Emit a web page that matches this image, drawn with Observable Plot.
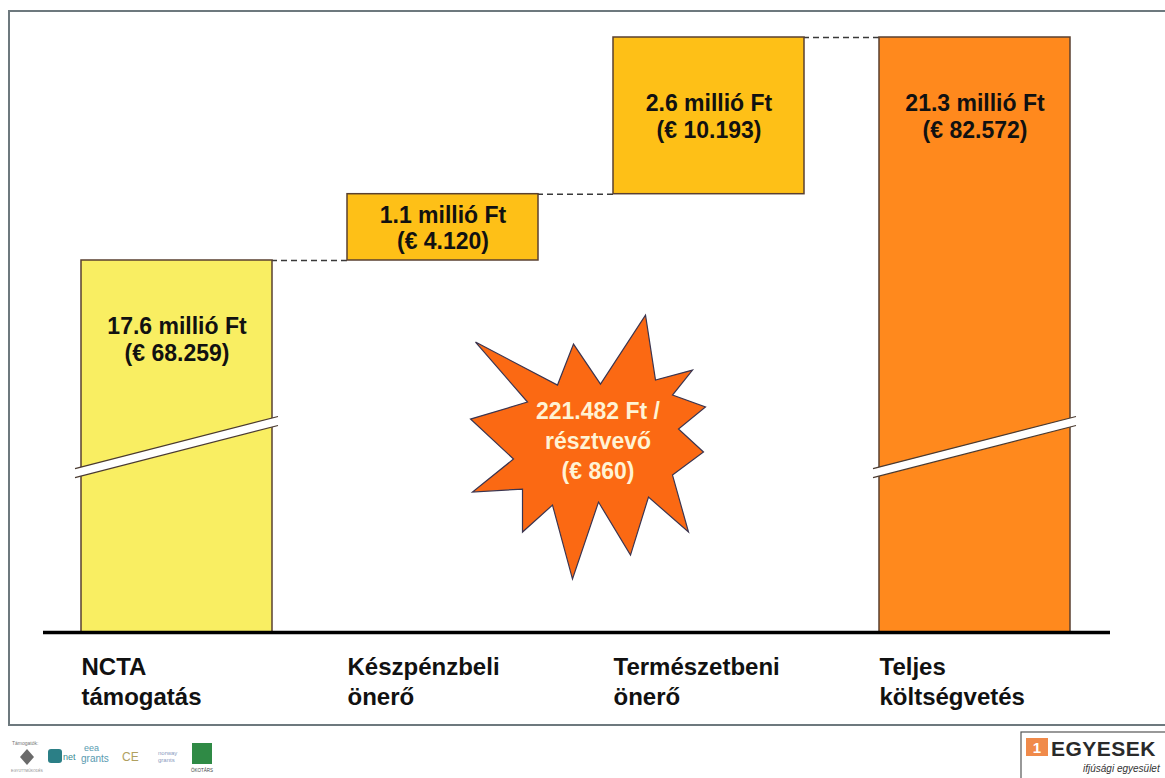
<!DOCTYPE html>
<html><head><meta charset="utf-8">
<script src="https://cdn.jsdelivr.net/npm/d3@7"></script>
<script src="https://cdn.jsdelivr.net/npm/@observablehq/plot@0.6"></script>
<style>
html,body{margin:0;padding:0;background:#fff;}
#chart{position:relative;width:1165px;height:778px;overflow:hidden;}
#frame{position:absolute;left:8px;top:10px;width:1175px;height:712px;border:2px solid #6d797e;pointer-events:none;}
</style></head><body>
<div id="chart"><div id="frame"></div></div>
<script>
// ---- data ----
const categories = ["NCTA\ntámogatás", "Készpénzbeli\nönerő", "Természetbeni\nönerő", "Teljes\nköltségvetés"];
const kinds = ["start", "step", "step", "total"];
const millionFt = [17.6, 1.1, 2.6, 21.3];
const euros = [68259, 4120, 10193, 82572];
const perParticipantFt = 221482;
const perParticipantEur = 860;
const breakValue = 8.75; // where the axis break is drawn (million Ft)

// ---- styles ----
const palette = ["#f9ee62", "#fec017", "#fec017", "#ff891d"];
const font = "'Liberation Sans', Arial, Helvetica, sans-serif";

// ---- derived table ----
let cum = 0;
const rows = categories.map((c, i) => {
  let y1, y2;
  if (kinds[i] === "start") { y1 = 0; y2 = millionFt[i]; cum = y2; }
  else if (kinds[i] === "step") { y1 = cum; y2 = cum + millionFt[i]; cum = y2; }
  else { y1 = 0; y2 = millionFt[i]; }
  return {cat: c, kind: kinds[i], y1, y2, value: millionFt[i], eur: euros[i]};
});
const connectors = rows.slice(0, -1).map((r, i) => ({from: rows[i + 1].cat, to: r.cat, y: r.y2}));

const loc = d3.formatLocale({thousands: ".", decimal: ",", grouping: [3], currency: ["", ""]});
const fmtInt = loc.format(",d");
const valueLabel = d => `${d.value.toFixed(1)} millió Ft\n(€ ${fmtInt(d.eur)})`;
const starLabel = [{cat: categories[1], y: breakValue,
  text: `${fmtInt(perParticipantFt)} Ft /\nrésztvevő\n(€ ${fmtInt(perParticipantEur)})`}];

const W = 1165, H = 778;
const xRange = [81, 1070], padIn = 0.282;
const step = (xRange[1] - xRange[0]) / (categories.length - padIn);
const bw = step * (1 - padIn);

// star outline, relative to its centre (between the two middle columns)
const starShape = [[70,-132],[80,-67],[117,-77],[97,-52],[130,-40],[103,-18],[128,5],[97,28],[113,85],[73,50],
  [55,108],[23,55],[-3,132],[-23,58],[-53,85],[-53,42],[-103,45],[-62,12],[-105,-28],[-48,-45],[-100,-105],[-18,-62],[-2,-103],[25,-63]];

function breakMarks(index, scales) {
  const g = d3.create("svg:g");
  const yc = scales.y(breakValue);
  for (const r of rows.filter(r => r.kind !== "step")) {
    const xa = scales.x(r.cat) - 6, xb = scales.x(r.cat) + scales.x.bandwidth() + 6;
    const rise = (xb - xa) * 0.1285, gap = 4.5;
    g.append("polygon")
      .attr("points", [[xa, yc + rise - gap], [xb, yc - rise - gap], [xb, yc - rise + gap], [xa, yc + rise + gap]].join(" "))
      .attr("fill", "#fff");
    for (const s of [-1, 1]) {
      g.append("line").attr("x1", xa).attr("y1", yc + rise + s * gap).attr("x2", xb).attr("y2", yc - rise + s * gap)
        .attr("stroke", "#4a3a30").attr("stroke-width", 1.2);
    }
  }
  return g.node();
}

function star(index, scales) {
  const cx = (scales.x(categories[1]) + scales.x(categories[2])) / 2 + scales.x.bandwidth() / 2;
  const cy = scales.y(breakValue);
  const g = d3.create("svg:g");
  g.append("polygon")
    .attr("points", starShape.map(([dx, dy]) => [cx + dx, cy + dy]).join(" "))
    .attr("fill", "#fb6913").attr("stroke", "#3b3550").attr("stroke-width", 1.2).attr("stroke-linejoin", "miter");
  return g.node();
}

function logos() {
  const g = d3.create("svg:g").attr("font-family", font).attr("text-anchor", "start");
  // left sponsor strip
  g.append("text").attr("x", 12).attr("y", 745).attr("font-size", 5).attr("fill", "#777").text("Támogatók:");
  g.append("path").attr("d", "M27,749 L34,757 L27,765 L20,757 Z").attr("fill", "#6a6a6a");
  g.append("text").attr("x", 27).attr("y", 772).attr("font-size", 3.5).attr("fill", "#888").attr("text-anchor", "middle").text("EGYÜTTMŰKÖDÉS");
  g.append("rect").attr("x", 48).attr("y", 749).attr("width", 14).attr("height", 14).attr("rx", 3).attr("fill", "#2b7f86");
  g.append("text").attr("x", 63).attr("y", 760).attr("font-size", 9).attr("fill", "#3a8a92").text("net");
  g.append("text").attr("x", 84).attr("y", 751).attr("font-size", 9).attr("fill", "#5a9bb0").text("eea");
  g.append("text").attr("x", 81).attr("y", 762).attr("font-size", 10).attr("fill", "#5a9bb0").text("grants");
  g.append("text").attr("x", 122).attr("y", 761).attr("font-size", 12).attr("fill", "#b0a060").text("CE");
  g.append("text").attr("x", 158).attr("y", 755).attr("font-size", 6).attr("fill", "#8a9bc0").text("norway");
  g.append("text").attr("x", 158).attr("y", 762).attr("font-size", 6).attr("fill", "#8a9bc0").text("grants");
  g.append("rect").attr("x", 192).attr("y", 743).attr("width", 20).attr("height", 21).attr("fill", "#2f8a45");
  g.append("text").attr("x", 202).attr("y", 772).attr("font-size", 4.5).attr("fill", "#444").attr("text-anchor", "middle").text("ÖKOTÁRS");
  // egyesek logo
  g.append("rect").attr("x", 1021).attr("y", 732).attr("width", 160).attr("height", 50).attr("fill", "#fff").attr("stroke", "#555").attr("stroke-width", 1.2);
  g.append("rect").attr("x", 1026).attr("y", 738).attr("width", 22).attr("height", 18).attr("fill", "#f08a4a");
  g.append("text").attr("x", 1037).attr("y", 753).attr("font-size", 15).attr("font-weight", "bold").attr("fill", "#fff").attr("text-anchor", "middle").text("1");
  g.append("text").attr("x", 1051).attr("y", 756).attr("font-size", 21).attr("font-weight", "bold").attr("fill", "#2a2a2a").attr("letter-spacing", 0.5).text("EGYESEK");
  g.append("text").attr("x", 1083).attr("y", 772).attr("font-size", 10).attr("font-style", "italic").attr("fill", "#333").text("ifjúsági egyesület");
  return g.node();
}

const chart = Plot.plot({
  width: W, height: H,
  marginLeft: 43, marginRight: 55, marginTop: 0, marginBottom: 0,
  style: {background: "transparent", fontFamily: font, overflow: "visible"},
  x: {type: "band", domain: categories, range: xRange, paddingInner: padIn, paddingOuter: 0, axis: null},
  y: {type: "linear", domain: [0, rows[0].y2, rows[3].y2], range: [632, 260, 37], axis: null},
  color: {domain: categories, range: palette},
  marks: [
    Plot.ruleY(connectors, {x1: "from", x2: "to", y: "y", stroke: "#3a3a3a", strokeWidth: 1.5, strokeDasharray: "6,4"}),
    Plot.barY(rows, {x: "cat", y1: "y1", y2: "y2", fill: "cat", stroke: "#5a4030", strokeWidth: 1.5}),
    breakMarks,
    star,
    Plot.text(starLabel, {x: "cat", y: "y", text: "text", dx: step / 2 + 22, dy: -8, lineAnchor: "middle", lineHeight: 1.3,
      fontSize: 23, fontWeight: "bold", fill: "#fff3d4"}),
    Plot.ruleY([0], {stroke: "#000", strokeWidth: 3.5}),
    Plot.text(rows.filter(d => d.kind !== "step"), {x: "cat", y: "y2", text: valueLabel, dy: 78, lineAnchor: "middle",
      lineHeight: 1.17, fontSize: 23, fontWeight: "bold", fill: "#111"}),
    Plot.text(rows.filter(d => d.kind === "step"), {x: "cat", y: d => (d.y1 + d.y2) / 2, text: valueLabel, dy: 0, lineAnchor: "middle",
      lineHeight: 1.17, fontSize: 23, fontWeight: "bold", fill: "#111"}),
    Plot.text(rows, {x: "cat", y: () => 0, text: "cat", textAnchor: "start", dx: -bw / 2, dy: 21, lineAnchor: "top",
      lineHeight: 1.25, fontSize: 24, fontWeight: "bold", fill: "#111"}),
    logos
  ]
});
document.getElementById("chart").appendChild(chart);
</script>
</body></html>
